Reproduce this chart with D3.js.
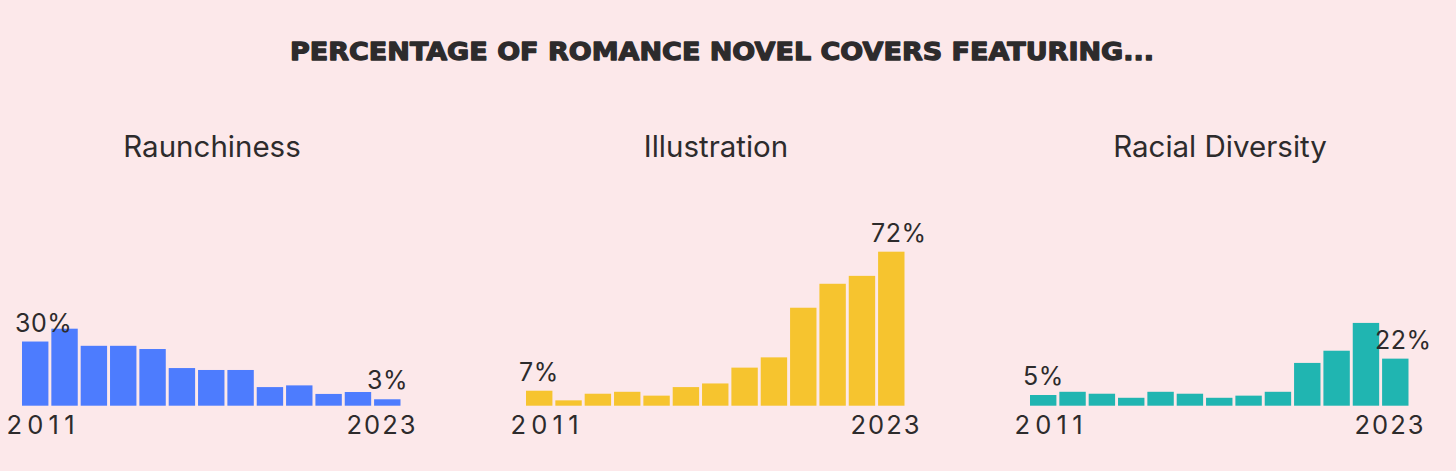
<!DOCTYPE html>
<html>
<head>
<meta charset="utf-8">
<script src="https://cdn.jsdelivr.net/npm/d3@7"></script>
<style>
  html, body { margin: 0; padding: 0; background: #fce8ea; }
  svg { display: block; }
</style>
</head>
<body>
<svg id="chart" width="1456" height="471"></svg>
<script>
const years = [2011,2012,2013,2014,2015,2016,2017,2018,2019,2020,2021,2022,2023];
const raunchiness = [30,36,28,28,26.5,17.6,16.7,16.7,8.7,9.5,5.5,6.4,3];
const illustration = [7,2.5,5.6,6.5,4.7,8.7,10.4,17.8,22.6,45.8,57,60.7,72];
const diversity = [5,6.5,5.6,3.7,6.5,5.6,3.7,4.7,6.5,20,25.7,38.7,22];
const panelTitles = ["Raunchiness","Illustration","Racial Diversity"];
const panelColors = ["#4d7cfe","#f6c42f","#20b5b1"];
const mainTitle = "PERCENTAGE OF ROMANCE NOVEL COVERS FEATURING...";

const series = [raunchiness, illustration, diversity];
const svg = d3.select("#chart");
const textColor = "#2d2b2c";
const font = "Inter, 'Noto Sans', sans-serif";

svg.append("text")
  .attr("x", 722).attr("y", 60)
  .attr("text-anchor", "middle")
  .attr("font-family", "'DejaVu Sans', sans-serif")
  .attr("font-weight", 900)
  .attr("font-size", 25.5)
  .attr("fill", textColor)
  .attr("stroke", textColor)
  .attr("stroke-width", 1.3)
  .attr("stroke-linejoin", "round")
  .attr("textLength", 864)
  .attr("lengthAdjust", "spacingAndGlyphs")
  .text(mainTitle);

const baseline = 405.7;
const y = d3.scaleLinear().domain([0, 100]).range([baseline, baseline - 213.9]);

series.forEach((vals, i) => {
  const x0 = 22 + i * 504;
  const x = d3.scaleBand().domain(years).range([x0, x0 + 378.5]).paddingInner(0.1).paddingOuter(0);
  const g = svg.append("g");
  const cx = x0 + 190;

  g.append("text")
    .attr("x", cx).attr("y", 156.5)
    .attr("text-anchor", "middle")
    .attr("font-family", font)
    .attr("font-size", 29.5)
    .attr("fill", textColor)
    .text(panelTitles[i]);

  g.selectAll("rect").data(years).join("rect")
    .attr("x", d => x(d))
    .attr("width", x.bandwidth())
    .attr("y", (d, k) => y(vals[k]))
    .attr("height", (d, k) => baseline - y(vals[k]))
    .attr("fill", panelColors[i]);

  // value labels on first and last bars
  [0, years.length - 1].forEach(k => {
    g.append("text")
      .attr("x", x(years[k]) - 7)
      .attr("y", y(vals[k]) - 10)
      .attr("font-family", font)
      .attr("font-size", 25)
      .attr("letter-spacing", 0.5)
      .attr("fill", textColor)
      .text(d3.format(".0f")(vals[k]) + "%");
  });

  // year labels
  g.append("text")
    .attr("x", x(years[0]) - 15.5)
    .attr("y", 434)
    .attr("font-family", font)
    .attr("font-size", 25.5)
    .attr("textLength", 68)
    .attr("lengthAdjust", "spacing")
    .attr("fill", textColor)
    .text(years[0]);
  g.append("text")
    .attr("x", x(years[years.length - 1]) + x.bandwidth() + 15 - 69)
    .attr("y", 434)
    .attr("font-family", font)
    .attr("font-size", 25.5)
    .attr("textLength", 69)
    .attr("lengthAdjust", "spacing")
    .attr("fill", textColor)
    .text(years[years.length - 1]);
});
</script>
</body>
</html>
